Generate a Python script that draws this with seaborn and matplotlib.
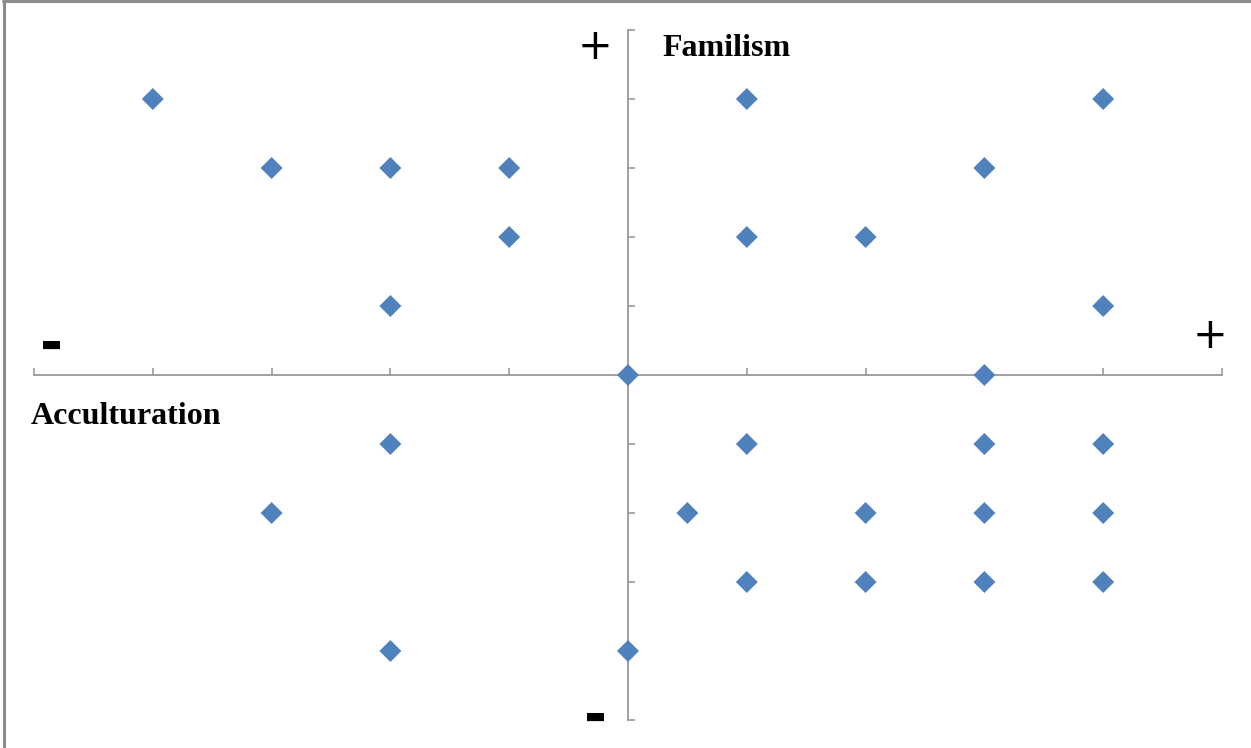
import numpy as np
import pandas as pd
import matplotlib
matplotlib.use("Agg")
import matplotlib.pyplot as plt
import seaborn as sns

# acculturation (x) vs familism (y) scores
acculturation = [-4, -3, -2, -1, -1, -2,
                 1, 4, 3, 1, 2, 4,
                 0, 3,
                 -2, -3, -2, 0,
                 1, 3, 4, 0.5, 2, 3, 4, 1, 2, 3, 4]
familism = [4, 3, 3, 3, 2, 1,
            4, 4, 3, 2, 2, 1,
            0, 0,
            -1, -2, -4, -4,
            -1, -1, -1, -2, -2, -2, -2, -3, -3, -3, -3]

df = pd.DataFrame({"acculturation": acculturation, "familism": familism})

sns.set_style("white")

fig = plt.figure(figsize=(12.51, 7.48), dpi=100)
ax = fig.add_axes([34 / 1251, 28 / 748, 1188 / 1251, 690 / 748])

sns.scatterplot(data=df, x="acculturation", y="familism", ax=ax,
                marker="D", s=125, color="#4F81BD", edgecolor="none", zorder=3)

ax.set_xlim(-5, 5)
ax.set_ylim(-5, 5)
ax.set_xticks(np.arange(-5, 6))
ax.set_yticks(np.arange(-5, 6))
ax.set_xticklabels([])
ax.set_yticklabels([])
ax.set_xlabel("")
ax.set_ylabel("")

ax.spines["left"].set_position(("data", 0))
ax.spines["bottom"].set_position(("data", 0))
ax.spines["right"].set_visible(False)
ax.spines["top"].set_visible(False)
for sp in ("left", "bottom"):
    ax.spines[sp].set_color("#999999")
    ax.spines[sp].set_linewidth(1.3)
ax.tick_params(axis="both", direction="in", length=5, width=1.2, color="#999999",
               left=True, bottom=True)

# axis annotations
ax.text(-0.28, 4.75, "+", fontsize=30, family="DejaVu Sans", color="black",
        ha="center", va="center")
ax.text(0.29, 4.73, "Familism", fontsize=23, family="Liberation Serif",
        weight="bold", color="black", ha="left", va="center")
ax.text(-4.85, 0.44, "▬", fontsize=16, family="DejaVu Sans",
        color="black", ha="center", va="center")
ax.text(4.9, 0.57, "+", fontsize=30, family="DejaVu Sans", color="black",
        ha="center", va="center")
ax.text(-5.03, -0.6, "Acculturation", fontsize=23, family="Liberation Serif",
        weight="bold", color="black", ha="left", va="center")
ax.text(-0.27, -4.95, "▬", fontsize=16, family="DejaVu Sans",
        color="black", ha="center", va="center")

# frame on the top and left edges of the picture
fig.lines.append(plt.Line2D([0.0033, 0.0033], [0, 0.998], transform=fig.transFigure,
                            color="#8c8c8c", linewidth=2.2))
fig.lines.append(plt.Line2D([0.0025, 1], [0.998, 0.998], transform=fig.transFigure,
                            color="#8c8c8c", linewidth=2.2))

fig.savefig("out.png", dpi=100)
